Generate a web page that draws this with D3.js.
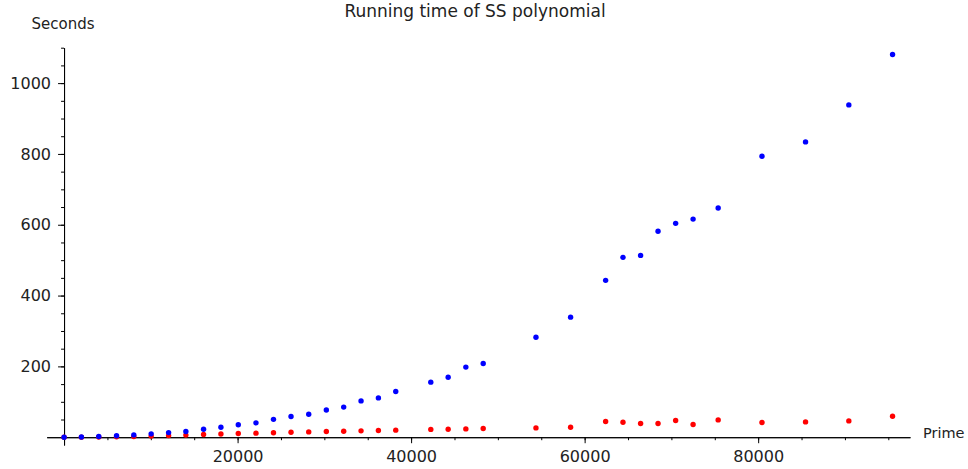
<!DOCTYPE html>
<html>
<head>
<meta charset="utf-8">
<script src="https://cdn.jsdelivr.net/npm/d3@7"></script>
<style>
    body { margin: 0; background: white; }
    text { font-family: "DejaVu Sans", sans-serif; fill: #222; }
</style>
</head>
<body>
<div id="canvas"></div>
<script>
// primes on the x axis and seconds for the two runs
var primes = [2, 2000, 4000, 6050, 8040, 10040, 12050, 14040, 16080, 18080, 20080,
    22120, 24140, 26160, 28200, 30230, 32230, 34230, 36230, 38230, 42270, 44270,
    46310, 48310, 54390, 58380, 62420, 64420, 66450, 68460, 70490, 72500, 75390,
    80440, 85460, 90450, 95490]

var secondsBlue = [0, 0.5, 2, 4, 6.5, 9.5, 13, 16, 22.5, 28, 35, 40.5, 50.5, 58.5,
    65, 77, 85, 102.5, 111, 129, 155.5, 169.5, 198, 208, 282.5, 339, 443, 508,
    513.5, 581.5, 604, 616, 647.5, 793.5, 834, 938.5, 1081]

var secondsRed = [0, 0.2, 0.6, 1.3, 2.2, 3.2, 4.5, 6, 7.5, 9, 10.5, 11.5, 12.5, 14,
    15, 16, 17, 18, 19, 20, 22, 22.5, 23.5, 24.6, 26.3, 28.3, 44.4, 42.4, 38.7,
    38.7, 47.2, 35.9, 48.9, 41.6, 43.3, 46, 59.4]

var xTicks = [20000, 40000, 60000, 80000]
var yTicks = [200, 400, 600, 800, 1000]

var width = 968, height = 469

var svg = d3.select("#canvas")
    .append("svg")
    .attr("width", width)
    .attr("height", height)

var x = d3.scaleLinear().domain([-2000, 97500]).range([46.7, 910])
var y = d3.scaleLinear().domain([-22, 1100]).range([445, 47.7])

// minor ticks first, majors with labels on top
svg.append("g")
    .attr("transform", "translate(0," + y(0) + ")")
    .call(d3.axisBottom(x).tickValues(d3.range(0, 97500, 5000)).tickSize(3).tickSizeOuter(0).tickFormat(""))

svg.append("g")
    .attr("transform", "translate(" + x(0) + ",0)")
    .call(d3.axisLeft(y).tickValues(d3.range(0, 1101, 50)).tickSize(3).tickSizeOuter(0).tickFormat(""))

var xAxis = svg.append("g")
    .attr("transform", "translate(0," + y(0) + ")")
    .call(d3.axisBottom(x).tickValues(xTicks).tickSize(6).tickPadding(7).tickSizeOuter(0).tickFormat(d3.format("d")))

var yAxis = svg.append("g")
    .attr("transform", "translate(" + x(0) + ",0)")
    .call(d3.axisLeft(y).tickValues(yTicks).tickSize(6).tickPadding(7).tickSizeOuter(0).tickFormat(d3.format("d")))

svg.selectAll(".domain, .tick line").attr("stroke", "black").attr("stroke-width", 1)
svg.selectAll(".tick text").style("font-size", "16px").attr("fill", "#222")

// axis labels and title
svg.append("text")
    .attr("x", 923)
    .attr("y", 438)
    .style("font-size", "14.5px")
    .text("Prime")

svg.append("text")
    .attr("x", 31.5)
    .attr("y", 29)
    .style("font-size", "15px")
    .text("Seconds")

svg.append("text")
    .attr("x", 475)
    .attr("y", 17)
    .attr("text-anchor", "middle")
    .style("font-size", "17px")
    .text("Running time of SS polynomial")

var pointsRed = primes.map((p, i) => [p, secondsRed[i]])
var pointsBlue = primes.map((p, i) => [p, secondsBlue[i]])

svg.append("g").selectAll("circle")
    .data(pointsRed)
    .enter()
    .append("circle")
    .attr("cx", d => x(d[0]))
    .attr("cy", d => y(d[1]))
    .attr("r", 2.7)
    .attr("fill", "#ff0000")

svg.append("g").selectAll("circle")
    .data(pointsBlue)
    .enter()
    .append("circle")
    .attr("cx", d => x(d[0]))
    .attr("cy", d => y(d[1]))
    .attr("r", 2.7)
    .attr("fill", "#0000ff")
</script>
</body>
</html>
